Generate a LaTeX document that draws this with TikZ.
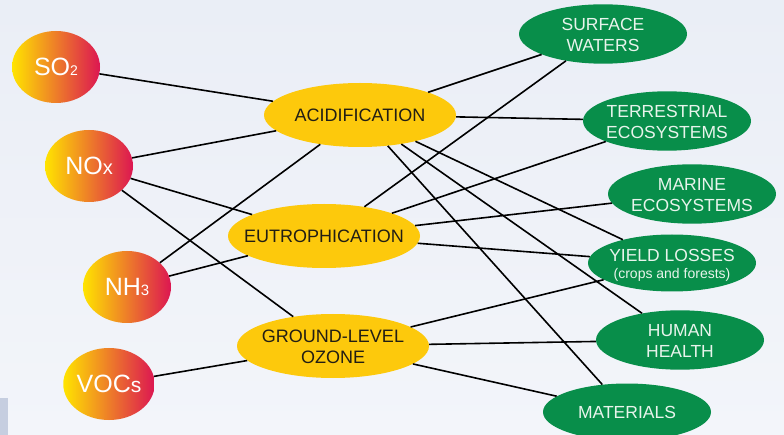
\documentclass[tikz,border=0pt]{standalone}
\usepackage{fontspec}
\setmainfont{Liberation Sans}
\usetikzlibrary{shapes.geometric}
\definecolor{bgtop}{RGB}{234,238,246}
\definecolor{bgbot}{RGB}{243,245,250}
\definecolor{bgbar}{RGB}{198,206,224}
\definecolor{ylw}{RGB}{253,201,12}
\definecolor{grn}{RGB}{8,142,74}
\definecolor{gy}{RGB}{255,228,0}
\definecolor{go}{RGB}{240,148,64}
\definecolor{gr}{RGB}{220,22,82}
\definecolor{gtext}{RGB}{232,244,236}
\definecolor{ytext}{RGB}{34,30,20}
\newcommand\zwtext[1]{\raisebox{-2.5pt}[\height][\depth]{\makebox[0pt]{\begin{tabular}{@{}c@{}}#1\end{tabular}}}}
\begin{document}
\begin{tikzpicture}[x=1pt,y=-1pt,
  pollutant/.style={ellipse, minimum width=88pt, minimum height=72pt, inner sep=0pt,
    left color=gy, middle color=go, right color=gr, text=white,
    font=\fontsize{25}{25}\selectfont},
  effect/.style={ellipse, fill=ylw, minimum width=192pt, minimum height=64pt, inner sep=0pt,
    text=ytext, font=\fontsize{18}{21}\selectfont},
  impact/.style={ellipse, fill=grn, minimum width=168pt, minimum height=57pt, inner sep=0pt,
    text=gtext, font=\fontsize{17.5}{21}\selectfont},
  link/.style={line width=1.6pt, black}]
\useasboundingbox (0,0) rectangle (784,435);
\shade[top color=bgtop, bottom color=bgbot] (0,0) rectangle (784,435);
\fill[bgbar] (0,398) rectangle (8,435);

% pollutants
\node[pollutant] (so2) at (56,67) {SO{\fontsize{14}{14}\selectfont 2}};
\node[pollutant] (nox) at (89,166) {NO{\fontsize{20}{20}\selectfont x}};
\node[pollutant] (nh3) at (127,287) {NH{\fontsize{15}{15}\selectfont 3}};
\node[pollutant] (voc) at (109,384) {VOC{\fontsize{21}{21}\selectfont s}};

% effects
\node[effect] (acid) at (360,115) {\zwtext{ACIDIFICATION}};
\node[effect] (eutro) at (324,236) {\zwtext{EUTROPHICATION}};
\node[effect] (ozone) at (333,346) {\zwtext{GROUND-LEVEL\\OZONE}};

% impacts
\node[impact] (surf) at (603,34) {\zwtext{SURFACE\\WATERS}};
\node[impact] (terr) at (667,121) {\zwtext{TERRESTRIAL\\ECOSYSTEMS}};
\node[impact] (mar) at (692,194) {\zwtext{MARINE\\ECOSYSTEMS}};
\node[impact] (yield) at (672,263) {\zwtext{YIELD LOSSES\\[-4pt]{\fontsize{14}{15}\selectfont (crops and forests)}}};
\node[impact] (hum) at (680,340) {\zwtext{HUMAN\\HEALTH}};
\node[impact] (mat) at (627,412) {\zwtext{MATERIALS}};

% links
\draw[link] (so2) -- (acid);
\draw[link] (nox) -- (acid);
\draw[link] (nox) -- (eutro);
\draw[link] (nox) -- (ozone);
\draw[link] (nh3) -- (acid);
\draw[link] (nh3) -- (eutro);
\draw[link] (voc) -- (ozone);

\draw[link] (acid) -- (surf);
\draw[link] (acid) -- (terr);
\draw[link] (acid) -- (yield);
\draw[link] (acid) -- (hum);
\draw[link] (acid) -- (mat);

\draw[link] (eutro) -- (surf);
\draw[link] (eutro) -- (terr);
\draw[link] (eutro) -- (mar);
\draw[link] (eutro) -- (yield);

\draw[link] (ozone) -- (yield);
\draw[link] (ozone) -- (hum);
\draw[link] (ozone) -- (mat);
\end{tikzpicture}
\end{document}
